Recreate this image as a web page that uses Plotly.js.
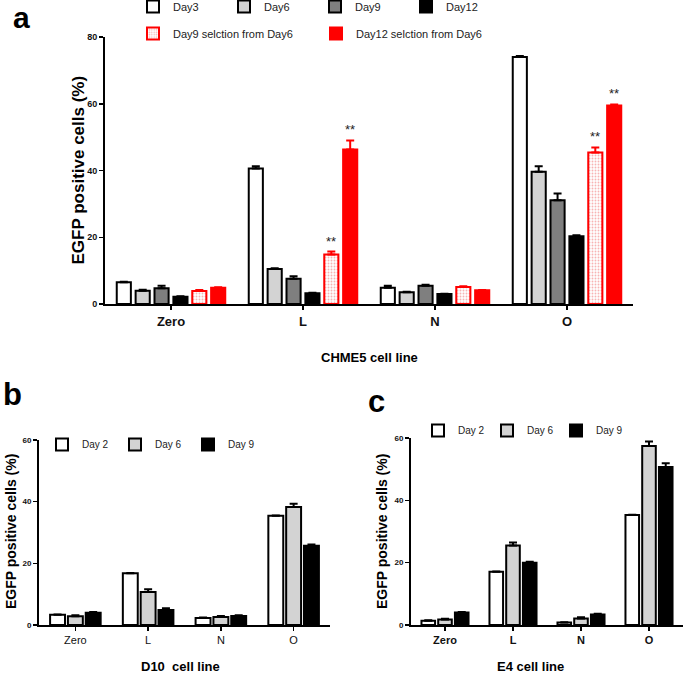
<!DOCTYPE html>
<html>
<head>
<meta charset="utf-8">
<script src="https://cdn.plot.ly/plotly-3.0.1.min.js"></script>
<style>
  html, body { margin: 0; padding: 0; background: #ffffff; }
  #chart { width: 685px; height: 675px; }
</style>
</head>
<body>
<div id="chart"></div>
<script>
const categories = ["Zero", "L", "N", "O"];

// panel a - CHME5 cell line
const chmeDay3 = [6.5, 40.6, 4.9, 74.0];
const chmeDay3Err = [0.2, 0.7, 0.6, 0.3];
const chmeDay6 = [4.0, 10.5, 3.5, 39.6];
const chmeDay6Err = [0.3, 0.2, 0.2, 1.7];
const chmeDay9 = [4.7, 7.6, 5.5, 31.1];
const chmeDay9Err = [0.8, 0.7, 0.3, 2.0];
const chmeDay12 = [2.2, 3.2, 3.0, 20.3];
const chmeDay12Err = [0.1, 0.2, 0.1, 0.3];
const chmeDay9Sel = [3.9, 14.8, 5.1, 45.4];
const chmeDay9SelErr = [0.3, 0.9, 0.2, 1.5];
const chmeDay12Sel = [4.9, 46.3, 4.1, 59.5];
const chmeDay12SelErr = [0.1, 2.7, 0.1, 0.3];
// categories marked ** for the two selection series
const chmeSignificant = ["L", "O"];

// panel b - D10 cell line
const d10Day2 = [3.3, 16.8, 2.3, 35.4];
const d10Day2Err = [0.1, 0.1, 0.1, 0.1];
const d10Day6 = [2.8, 10.7, 2.6, 38.3];
const d10Day6Err = [0.4, 0.9, 0.3, 1.0];
const d10Day9 = [4.0, 4.9, 2.9, 25.7];
const d10Day9Err = [0.2, 0.5, 0.3, 0.4];

// panel c - E4 cell line
const e4Day2 = [1.4, 17.1, 0.8, 35.3];
const e4Day2Err = [0.1, 0.1, 0.1, 0.1];
const e4Day6 = [1.8, 25.5, 2.1, 57.4];
const e4Day6Err = [0.2, 1.0, 0.4, 1.5];
const e4Day9 = [4.0, 20.0, 3.4, 50.7];
const e4Day9Err = [0.2, 0.3, 0.2, 1.2];

const W = 685, H = 675;
const px = (v) => v / W;
const py = (v) => 1 - v / H;
const FONT = "Liberation Sans, Arial, Helvetica, sans-serif";

const styles = {
  white: { color: "#ffffff", line: "#000000" },
  light: { color: "#d3d3d3", line: "#000000" },
  dark: { color: "#7f7f7f", line: "#000000" },
  black: { color: "#000000", line: "#000000" },
  dotted: { color: "#ffffff", line: "#ff0000", pattern: true },
  red: { color: "#ff0000", line: "#ff0000" }
};

function barTrace(name, y, err, style, axes, legend, slot, width, idx, n) {
  const offset = -slot * n / 2 + idx * slot + (slot - width) / 2;
  const marker = {
    color: style.color,
    line: { color: style.line, width: 2 }
  };
  if (style.pattern) {
    marker.pattern = { shape: ".", fgcolor: "#f7b3b3", bgcolor: "#ffffff", size: 3, solidity: 0.3 };
  }
  return {
    type: "bar",
    name: name,
    x: categories,
    y: y,
    xaxis: axes[0],
    yaxis: axes[1],
    legend: legend,
    width: width,
    offset: offset,
    marker: marker,
    error_y: {
      type: "data",
      symmetric: false,
      array: err,
      arrayminus: err.map(() => 0),
      color: style.line,
      thickness: 2,
      width: 4
    },
    hoverinfo: "name+y"
  };
}

// panel a
const slotA = 0.143, widthA = 0.107;
const seriesA = [
  ["Day3", chmeDay3, chmeDay3Err, styles.white, "legend"],
  ["Day6", chmeDay6, chmeDay6Err, styles.light, "legend"],
  ["Day9", chmeDay9, chmeDay9Err, styles.dark, "legend"],
  ["Day12", chmeDay12, chmeDay12Err, styles.black, "legend"],
  ["Day9 selction from Day6", chmeDay9Sel, chmeDay9SelErr, styles.dotted, "legend2"],
  ["Day12 selction from Day6", chmeDay12Sel, chmeDay12SelErr, styles.red, "legend2"]
];
const tracesA = seriesA.map((s, i) =>
  barTrace(s[0], s[1], s[2], s[3], ["x", "y"], s[4], slotA, widthA, i, seriesA.length)
);

// panel b
const slotB = 0.245, widthB = 0.205;
const seriesB = [
  ["Day 2", d10Day2, d10Day2Err, styles.white],
  ["Day 6", d10Day6, d10Day6Err, styles.light],
  ["Day 9", d10Day9, d10Day9Err, styles.black]
];
const tracesB = seriesB.map((s, i) =>
  barTrace(s[0], s[1], s[2], s[3], ["x2", "y2"], "legend3", slotB, widthB, i, seriesB.length)
);

// panel c
const slotC = 0.246, widthC = 0.2;
const seriesC = [
  ["Day 2", e4Day2, e4Day2Err, styles.white],
  ["Day 6", e4Day6, e4Day6Err, styles.light],
  ["Day 9", e4Day9, e4Day9Err, styles.black]
];
const tracesC = seriesC.map((s, i) =>
  barTrace(s[0], s[1], s[2], s[3], ["x3", "y3"], "legend4", slotC, widthC, i, seriesC.length)
);

// significance stars above the selection bars
const starAnnotations = [];
[4, 5].forEach((i) => {
  const t = tracesA[i];
  chmeSignificant.forEach((cat) => {
    const k = categories.indexOf(cat);
    starAnnotations.push({
      xref: "x", yref: "y",
      x: k + t.offset + t.width / 2,
      y: t.y[k] + t.error_y.array[k],
      yanchor: "bottom",
      yshift: 1,
      text: "**",
      showarrow: false,
      font: { family: FONT, size: 13, color: "#222222" }
    });
  });
});

function xAxis(domain, anchor, tickSize, bold) {
  return {
    domain: domain,
    anchor: anchor,
    type: "category",
    range: [-0.5, 3.5],
    showline: true,
    linecolor: "#000000",
    linewidth: 2,
    ticks: "outside",
    ticklen: 4,
    tickwidth: 1.5,
    tickcolor: "#000000",
    showgrid: false,
    zeroline: false,
    tickfont: { family: FONT, size: tickSize, color: "#111111", weight: bold ? "bold" : "normal" },
    fixedrange: true
  };
}

function yAxis(domain, anchor, max, tickSize) {
  return {
    domain: domain,
    anchor: anchor,
    range: [0, max],
    dtick: 20,
    tick0: 0,
    showline: true,
    linecolor: "#000000",
    linewidth: 2,
    ticks: "outside",
    ticklen: 4,
    tickwidth: 1.5,
    tickcolor: "#000000",
    showgrid: false,
    zeroline: false,
    tickfont: { family: FONT, size: tickSize, color: "#111111", weight: "bold" },
    fixedrange: true
  };
}

function label(text, x, y, size, rotate) {
  return {
    xref: "paper", yref: "paper",
    x: px(x), y: py(y),
    xanchor: "center", yanchor: "middle",
    text: text,
    textangle: rotate || 0,
    showarrow: false,
    font: { family: FONT, size: size, color: "#000000", weight: "bold" }
  };
}

function legendBox(x, y, entrywidth, size) {
  return {
    orientation: "h",
    x: px(x), y: py(y),
    xanchor: "left", yanchor: "top",
    entrywidth: entrywidth,
    entrywidthmode: "pixels",
    bgcolor: "rgba(0,0,0,0)",
    borderwidth: 0,
    traceorder: "normal",
    font: { family: FONT, size: size, color: "#222222" }
  };
}

const layout = {
  width: W,
  height: H,
  margin: { l: 0, r: 0, t: 0, b: 0, autoexpand: false },
  paper_bgcolor: "#ffffff",
  plot_bgcolor: "#ffffff",
  barmode: "group",
  showlegend: true,
  font: { family: FONT, color: "#111111" },
  xaxis: xAxis([px(105), px(633)], "y", 13, true),
  yaxis: yAxis([py(304), py(37)], "x", 80, 9),
  xaxis2: xAxis([px(39), px(330)], "y2", 11, false),
  yaxis2: yAxis([py(625), py(440)], "x2", 60, 8),
  xaxis3: xAxis([px(411), px(683)], "y3", 11, true),
  yaxis3: yAxis([py(625), py(438)], "x3", 60, 8),
  legend: legendBox(133, -8, 46, 11),
  legend2: legendBox(133, 19, 138, 11),
  legend3: legendBox(42, 430, 28, 10),
  legend4: legendBox(418, 416, 24, 10),
  annotations: [
    label("a", 21, 18, 30),
    label("b", 12, 395, 31),
    label("c", 376, 401, 31),
    label("EGFP positive cells (%)", 78, 170.5, 17, -90),
    label("CHME5 cell line", 369, 357, 13),
    label("EGFP positive cells (%)", 11, 532, 14, -90),
    label("D10\u00a0 cell line", 180, 666, 13),
    label("EGFP positive cells (%)", 382, 532, 14, -90),
    label("E4 cell line", 530, 666, 13),
    ...starAnnotations
  ]
};

Plotly.newPlot("chart", [...tracesA, ...tracesB, ...tracesC], layout, {
  displayModeBar: false,
  staticPlot: true
});
</script>
</body>
</html>
